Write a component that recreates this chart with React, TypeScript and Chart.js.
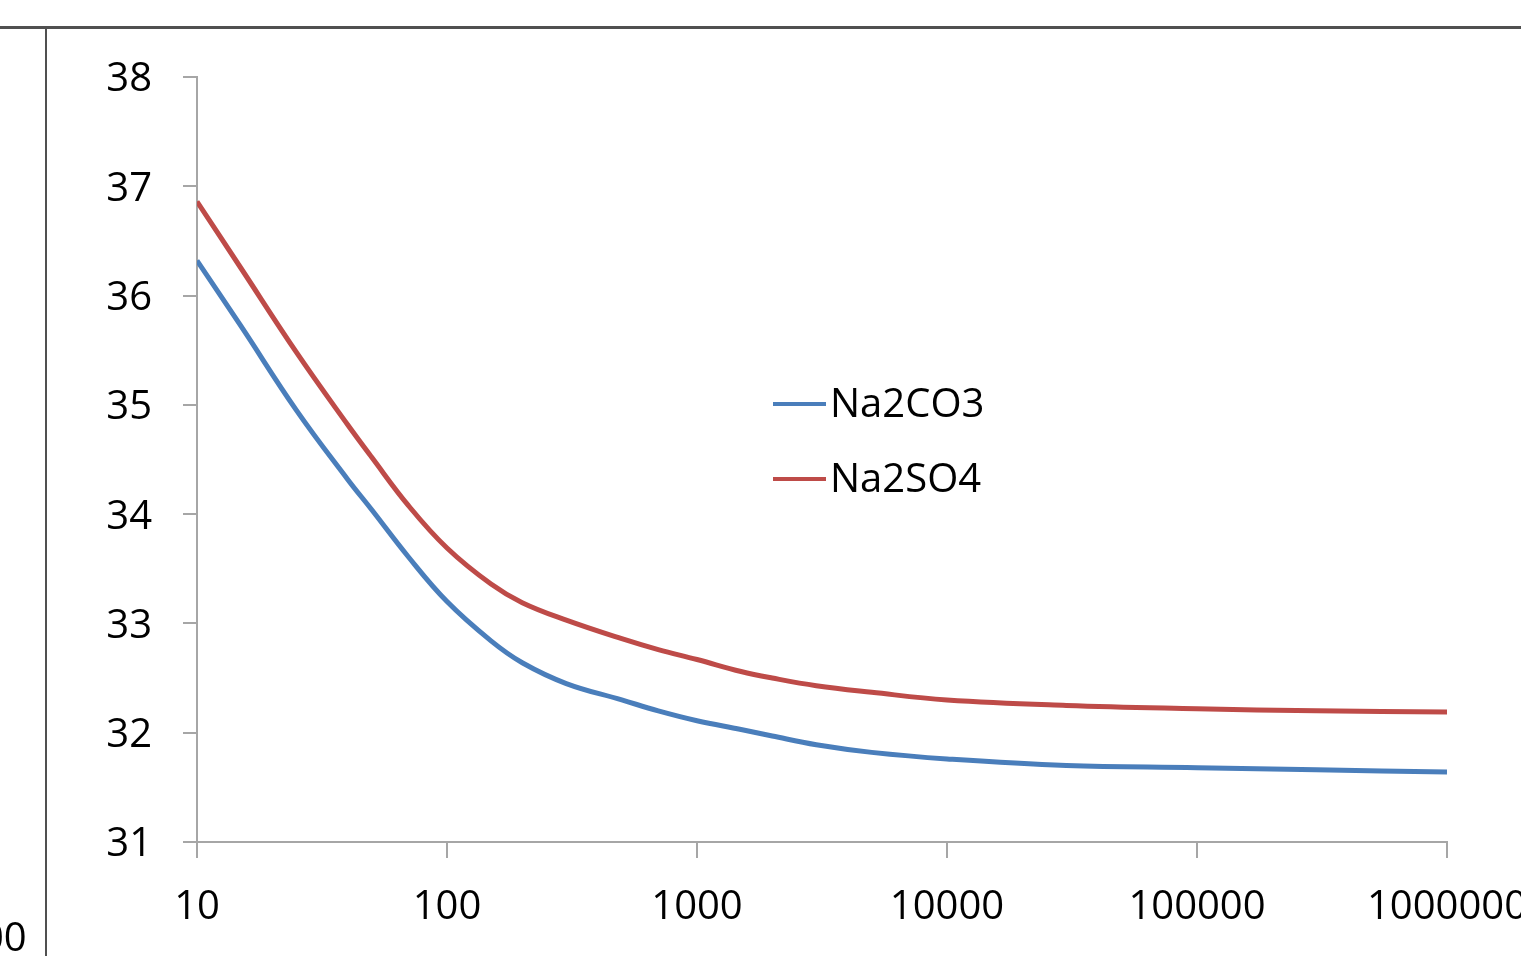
import React, { useEffect, useRef } from "react";
import { Chart, registerables } from "chart.js";

Chart.register(...registerables);

const concentrations = [10, 15, 25, 40, 50, 70, 100, 150, 200, 300, 500, 700, 1000, 1500, 2000, 3000, 5000, 10000, 30000, 100000, 300000, 1000000];
const na2co3 = [36.32, 35.72, 34.95, 34.32, 34.04, 33.61, 33.2, 32.84, 32.64, 32.45, 32.3, 32.2, 32.11, 32.03, 31.97, 31.89, 31.82, 31.76, 31.7, 31.68, 31.66, 31.64];
const na2so4 = [36.86, 36.25, 35.48, 34.82, 34.52, 34.08, 33.69, 33.36, 33.19, 33.03, 32.86, 32.76, 32.67, 32.56, 32.5, 32.43, 32.37, 32.3, 32.25, 32.22, 32.2, 32.19];
const xTicks = [10, 100, 1000, 10000, 100000, 1000000];
const seriesLabels = ["Na2CO3", "Na2SO4"];
const seriesColors = ["#4A7EBB", "#BE4B48"];

const FONT = "'Open Sans', 'DejaVu Sans', sans-serif";

const legendPlugin = {
  id: "floatingLegend",
  afterDatasetsDraw(chart: any) {
    const ctx = chart.ctx;
    ctx.save();
    chart.data.datasets.forEach((ds: any, i: number) => {
      const y = 404 + i * 75;
      ctx.strokeStyle = ds.borderColor;
      ctx.lineWidth = 4;
      ctx.beginPath();
      ctx.moveTo(773, y);
      ctx.lineTo(826, y);
      ctx.stroke();
      ctx.fillStyle = "#000";
      ctx.font = `40px ${FONT}`;
      ctx.textBaseline = "middle";
      ctx.textAlign = "left";
      ctx.fillText(ds.label, 830, y + 2);
    });
    ctx.restore();
  },
};

export default function App() {
  const ref = useRef<HTMLCanvasElement | null>(null);

  useEffect(() => {
    document.body.style.margin = "0";
    if (!ref.current) return;
    const mk = (vals: number[]) => concentrations.map((x, i) => ({ x, y: vals[i] }));
    const chart = new Chart(ref.current, {
      type: "line",
      data: {
        datasets: [
          {
            label: seriesLabels[0],
            data: mk(na2co3),
            borderColor: seriesColors[0],
            backgroundColor: seriesColors[0],
            borderWidth: 5,
            pointRadius: 0,
            tension: 0.4,
          },
          {
            label: seriesLabels[1],
            data: mk(na2so4),
            borderColor: seriesColors[1],
            backgroundColor: seriesColors[1],
            borderWidth: 5,
            pointRadius: 0,
            tension: 0.4,
          },
        ],
      },
      options: {
        animation: false,
        responsive: false,
        layout: { padding: { top: 77, right: 1600 - 1447, left: 0, bottom: 0 } },
        plugins: { legend: { display: false }, tooltip: { enabled: false } },
        scales: {
          x: {
            type: "logarithmic",
            min: 10,
            max: 1000000,
            afterBuildTicks: (scale: any) => {
              scale.ticks = xTicks.map((v) => ({ value: v }));
            },
            afterFit: (scale: any) => {
              scale.height = 956 - 842;
            },
            ticks: {
              autoSkip: false,
              maxRotation: 0,
              color: "#000",
              font: { family: FONT, size: 40 },
              padding: 26,
              callback: (v: any) => String(v),
            },
            grid: { display: true, drawOnChartArea: false, drawTicks: true, tickLength: 16, color: "#A6A6A6", lineWidth: 2 },
            border: { display: true, color: "#A6A6A6", width: 2 },
          },
          y: {
            min: 31,
            max: 38,
            afterFit: (scale: any) => {
              scale.width = 197;
            },
            ticks: {
              stepSize: 1,
              color: "#000",
              font: { family: FONT, size: 40 },
              padding: 31,
              labelOffset: 3,
            },
            grid: { display: true, drawOnChartArea: false, drawTicks: true, tickLength: 14, color: "#A6A6A6", lineWidth: 2 },
            border: { display: true, color: "#A6A6A6", width: 2 },
          },
        },
      },
      plugins: [legendPlugin],
    } as any);
    return () => chart.destroy();
  }, []);

  return (
    <div style={{ position: "fixed", left: 0, top: 0, width: 1521, height: 956, overflow: "hidden", background: "#fff" }}>
      <canvas ref={ref} width={1600} height={956} style={{ position: "absolute", left: 0, top: 0, width: 1600, height: 956 }} />
      <div style={{ position: "absolute", left: 0, top: 26, width: 1521, height: 3, background: "#505050" }} />
      <div style={{ position: "absolute", left: 45, top: 28, width: 2, height: 928, background: "#505050" }} />
      <div style={{ position: "absolute", left: -19, top: 912, fontFamily: FONT, fontSize: 40, lineHeight: "48px", color: "#000" }}>00</div>
    </div>
  );
}
